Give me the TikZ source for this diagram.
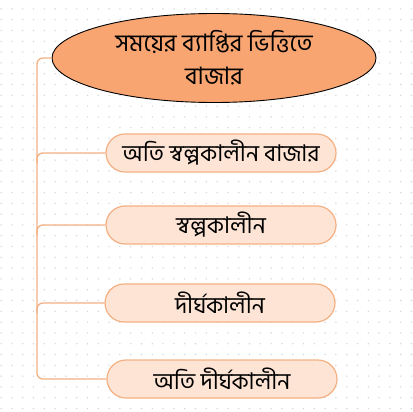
\documentclass[tikz,border=0pt]{standalone}
\usepackage{fontspec}
\newfontfamily\bnfont[Script=Bengali]{Hind Siliguri}
\usetikzlibrary{shapes.geometric}
\definecolor{ellfill}{HTML}{F8A572}
\definecolor{boxfill}{HTML}{FDE4D4}
\definecolor{boxline}{HTML}{F4B083}
\definecolor{dotc}{HTML}{D6D6D6}
\tikzset{
  topell/.style={ellipse, draw=black, line width=0.9pt, fill=ellfill, minimum width=324pt, minimum height=89pt, inner sep=0pt, align=center, font=\bnfont\fontsize{24}{33}\selectfont},
  leaf/.style={draw=boxline, line width=1.2pt, fill=boxfill, rounded corners=19pt, minimum width=230pt, minimum height=38pt, inner sep=0pt, font=\bnfont\fontsize{23}{28}\selectfont},
  conn/.style={draw=boxline, line width=1.3pt, rounded corners=6pt},
}
\begin{document}
\begin{tikzpicture}[x=1pt,y=-1pt]
\useasboundingbox (0,0) rectangle (412,412);
\fill[white] (0,0) rectangle (412,412);
\foreach \i in {0,...,38}{
  \foreach \j in {0,...,38}{
    \fill[dotc] ({1.1+10.8*\i},{8.9+10.8*\j}) circle (0.8pt);
  }
}
\coordinate (trunk) at (37,0);
\node[topell] (root) at (214,58) {সময়ের ব্যাপ্তির ভিত্তিতে\\বাজার};
\node[leaf] (b1) at (221,153) {অতি স্বল্পকালীন বাজার};
\node[leaf] (b2) at (221,225) {স্বল্পকালীন};
\node[leaf] (b3) at (220,303) {দীর্ঘকালীন};
\node[leaf] (b4) at (222,379) {অতি দীর্ঘকালীন};
\draw[conn] (root.west) -- (root.west -| trunk) -- (b4.west -| trunk) -- (b4.west);
\draw[conn] ([yshift=-10pt]b1.west -| trunk) -- (b1.west -| trunk) -- (b1.west);
\draw[conn] ([yshift=-10pt]b2.west -| trunk) -- (b2.west -| trunk) -- (b2.west);
\draw[conn] ([yshift=-10pt]b3.west -| trunk) -- (b3.west -| trunk) -- (b3.west);
\end{tikzpicture}
\end{document}
